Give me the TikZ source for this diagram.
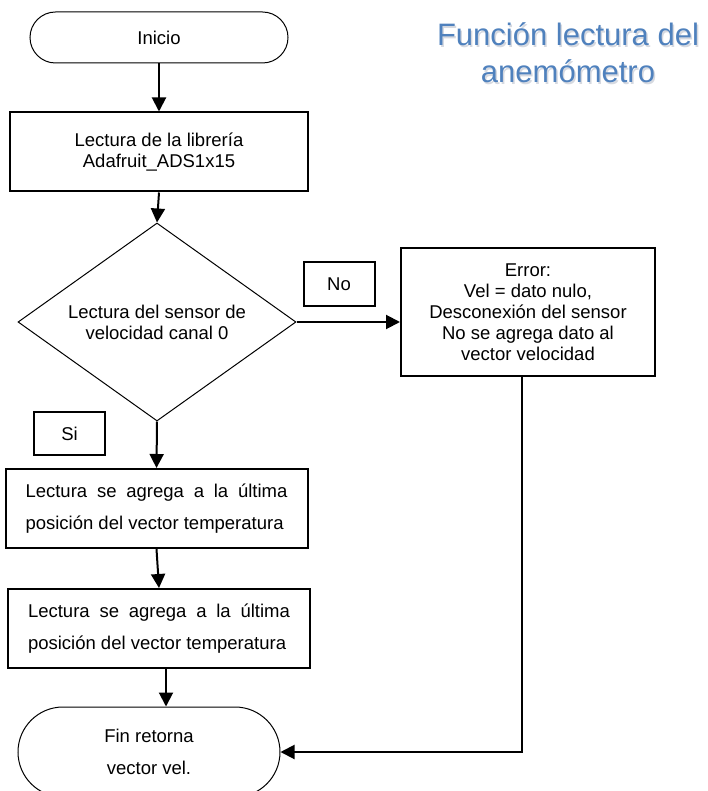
\documentclass[tikz,border=0pt]{standalone}
\usepackage{fontspec}
\setmainfont{Liberation Sans}
\usepackage{tikz}
\usetikzlibrary{shapes.geometric, shapes.misc, arrows.meta, positioning, calc}
\definecolor{titleblue}{RGB}{79,129,189}
\definecolor{titleshade}{RGB}{214,217,224}
\tikzset{
  terminal/.style={rounded rectangle, draw=black, line width=1pt,
    font=\fontsize{18.5}{21}\selectfont, align=center, inner sep=0pt},
  process/.style={rectangle, draw=black, line width=2pt,
    font=\fontsize{18.5}{21}\selectfont, align=center, inner sep=0pt},
  wideprocess/.style={rectangle, draw=black, line width=2pt,
    font=\fontsize{18.5}{32}\selectfont, text width=262pt, align=justify,
    inner xsep=20pt, inner ysep=0pt},
  decision/.style={diamond, draw=black, line width=1pt, aspect=1.4,
    font=\fontsize{18.5}{21}\selectfont, align=center, inner sep=0pt},
  tagbox/.style={rectangle, draw=black, line width=2pt,
    minimum width=71pt, minimum height=43pt,
    font=\fontsize{18.5}{21}\selectfont},
  arrow/.style={-{Triangle[length=14pt, width=14pt]}, line width=2pt},
  line/.style={line width=2pt}
}

\begin{document}
\begin{tikzpicture}[x=1pt, y=-1pt]
  \useasboundingbox (0,0) rectangle (707,791);

  % --- TITLE ---
  \node[font=\fontsize{31}{37}\selectfont, align=center, text=titleshade] (title_shadow) at (569.5,54.5) {Función lectura del\\anemómetro};
  \node[font=\fontsize{31}{37}\selectfont, align=center, text=titleblue] (title) at (568,53) {Función lectura del\\anemómetro};

  % --- MAIN FLOW ---
  \node[terminal, minimum width=258pt, minimum height=51pt] (inicio) at (159,37.5) {Inicio};
  \node[process, minimum width=298pt, minimum height=79pt] (lib) at (159,152) {Lectura de la librería\\Adafruit\_ADS1x15};
  \node[decision, minimum width=278pt, minimum height=198pt] (sensor) at (157,322) {Lectura del sensor de\\velocidad canal 0};
  \node[tagbox] (no) at (339,284) {No};
  \node[tagbox] (si) at (69.5,433.5) {Si};
  \node[process, minimum width=254pt, minimum height=128pt] (error) at (528,312) {Error:\\Vel = dato nulo,\\Desconexión del sensor\\No se agrega dato al\\vector velocidad};
  \node[wideprocess, minimum height=79pt] (store1) at (156.5,508.5) {Lectura se agrega a la última\linebreak posición del vector temperatura};
  \node[wideprocess, minimum height=79pt] (store2) at (159,628.5) {Lectura se agrega a la última\linebreak posición del vector temperatura};
  \node[terminal, font=\fontsize{18.5}{32}\selectfont, minimum width=262pt, minimum height=90pt] (fin) at (149,752) {Fin retorna\\vector vel.};

  % --- CONNECTORS ---
  \draw[arrow] (inicio.south) -- (lib.north);
  \draw[arrow] (lib.south) -- (sensor.north);
  \draw[arrow] (sensor.east) -- (sensor.east -| error.west);
  \draw[arrow] (sensor.south) -- (store1.north);
  \draw[arrow] (store1.south) -- (store2.north);
  \draw[arrow] ([xshift=7pt]store2.south) -- ([xshift=7pt]store2.south |- fin.north);
  \draw[arrow] ([xshift=-6pt]error.south) |- (fin.east);
\end{tikzpicture}
\end{document}
